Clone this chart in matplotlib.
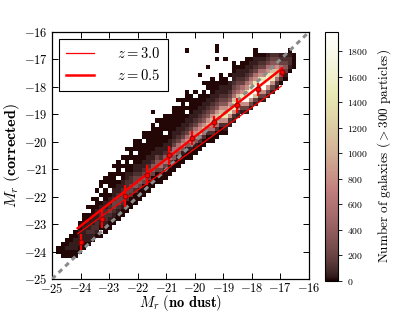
import numpy as np
import matplotlib
matplotlib.use('Agg')
import matplotlib.pyplot as plt

plt.rcParams['font.family'] = 'serif'
plt.rcParams['font.serif'] = ['cmr10']
plt.rcParams['mathtext.fontset'] = 'cm'
plt.rcParams['axes.formatter.use_mathtext'] = True

# 2D histogram: 60x60 bins over [-25,-16] on both axes.
# Each column (x bin) is given as a start row (from the bottom) and a string of
# count levels going up; '.' is an empty cell.
level_counts = [8, 40, 100, 200, 350, 550, 800, 1100, 1450, 1850]
first_col = 1
col_start = [6, 5, 5, 5, 5, 6, 7, 8, 8, 9,
             10, 11, 12, 13, 14, 15, 16, 17, 18, 19,
             20, 21, 22, 23, 23, 24, 25, 26, 27, 28,
             29, 29, 30, 31, 32, 33, 33, 34, 35, 35,
             37, 38, 39, 40, 40, 41, 42, 43, 43, 44,
             45, 46, 47, 47, 48, 51]
col_levels = ["00", "0000", "00100", "001100", "0011100", "00111100",
              "0011110.0", "01121100.0", ".012211000.0", ".0122111000.0",
              "0.0122110.0.00", "00122211000.00", "001232110.0000", "0012332110000.0",
              "0012332110.0000", "00123321100.0.0", "00023322110000.0", "00023322100.000",
              "000243321100.000", "000343211000000", "0003432110000.00", "000343211000000",
              "0003442110000000", "00034431100000.0", "0013542110000000", "00135421100.0000",
              "001354211000000", "0014553211000.00", "001455321100000.", "0014653211000000",
              "00146532110.0.00", "0014665321100000", "00146653211000.0", "00247653211000",
              "00257643211000.0", "002576432110.00", "0025776432110000", "00257764321100",
              "002687643211000", "01268764321100", "12687643211.0", "126887543211000",
              "1268875432110", "1369865321100", "13699865321100", "1369986532110",
              "1379986532110", "136998653210", "136998653210", "13699865321",
              "1368875432", "125776432", "02465321", ".0134321", "..012210", "0000"]

# isolated single galaxies above the main band
outlier_x = [-20.27, -21.5, -19.23, -19.82, -19.47, -20.58, -20.23, -21.1, -19.18, -19.18,
             -17.89, -18.85, -17.52, -17.35, -18.07, -23.13, -23.37, -23.83, -23.68,
             -23.53, -21.28, -20.7, -18.3, -17.7]
outlier_y = [-16.66, -18.95, -16.55, -17.58, -17.21, -18.49, -18.25, -19.52, -16.61, -16.97,
             -16.67, -16.97, -16.95, -16.95, -17.14, -21.46, -22.06, -22.79, -22.79,
             -22.79, -19.57, -19.1, -17.4, -16.8]

# binned medians (z = 0.5) with scatter
pt_x = [-24.0, -23.25, -22.45, -21.67, -20.89, -20.11, -19.33, -18.53, -17.78, -16.96]
pt_y = [-23.65, -22.8, -21.98, -21.2, -20.5, -19.87, -19.28, -18.67, -18.09, -17.45]
pt_err = [0.3, 0.33, 0.4, 0.36, 0.33, 0.25, 0.22, 0.27, 0.24, 0.18]

# linear fits
fit_x = [-24.1, -16.97]
fit_z30 = [-23.35, -17.97]
fit_z05 = [-23.15, -17.35]

edges = np.linspace(-25, -16, 61)
H = np.zeros((60, 60))
for i, (s, levels) in enumerate(zip(col_start, col_levels), start=first_col):
    for k, ch in enumerate(levels):
        if ch != '.':
            H[s + k, i] = level_counts[int(ch)]
for ox, oy in zip(outlier_x, outlier_y):
    i = int((ox + 25) / 0.15)
    j = int((oy + 25) / 0.15)
    H[j, i] = max(H[j, i], level_counts[0])
Hm = np.ma.masked_equal(H, 0)

fig = plt.figure(figsize=(4.15, 3.12), dpi=100)
ax = fig.add_axes([0.1253, 0.1058, 0.6193, 0.7917])
mesh = ax.pcolormesh(edges, edges, Hm, cmap='pink', vmin=0, vmax=1950)

ax.plot([-25, -16], [-25, -16], color='0.55', lw=2.2, linestyle=(0, (1.6, 1.4)), zorder=3)
ax.plot(fit_x, fit_z30, color='red', lw=0.9, label=r'$z = 3.0$', zorder=4)
ax.plot(fit_x, fit_z05, color='red', lw=1.8, label=r'$z = 0.5$', zorder=4)
ax.errorbar(pt_x, pt_y, yerr=pt_err, fmt='o', color='red', ms=3.5, mec='#8b0000',
            mew=0.7, elinewidth=1.6, capsize=0, zorder=5)

ax.set_xlim(-25, -16)
ax.set_ylim(-25, -16)
ax.set_xticks(range(-25, -15))
ax.set_yticks(range(-25, -15))
ax.tick_params(direction='in', top=True, right=True, length=4, width=0.7,
               labelsize=9, pad=3)
ax.tick_params(axis='x', pad=2)
for sp in ax.spines.values():
    sp.set_linewidth(0.9)
ax.set_xlabel(r'$M_r\ \mathbf{(no\ dust)}$', fontsize=10.5, va='top')
ax.xaxis.set_label_coords(0.5, -0.058)
ax.set_ylabel(r'$M_r\ \mathbf{(corrected)}$', fontsize=11.5, labelpad=1)

leg = ax.legend(loc='upper left', bbox_to_anchor=(0.027, 0.972), borderaxespad=0,
                fontsize=10.5, fancybox=False, framealpha=1, edgecolor='black',
                handlelength=1.9, handletextpad=1.6, borderpad=0.5, labelspacing=0.5)
leg.get_frame().set_linewidth(0.8)

cax = fig.add_axes([0.7831, 0.0994, 0.0313, 0.7981])
cb = fig.colorbar(mesh, cax=cax, ticks=range(0, 1801, 200))
cb.ax.tick_params(labelsize=7, length=3, width=0.6)
cb.outline.set_linewidth(0.8)
cb.set_label(r'Number of galaxies ($>$300 particles)', fontsize=9.5, labelpad=5)

fig.savefig('out.png', dpi=100, facecolor='white')
